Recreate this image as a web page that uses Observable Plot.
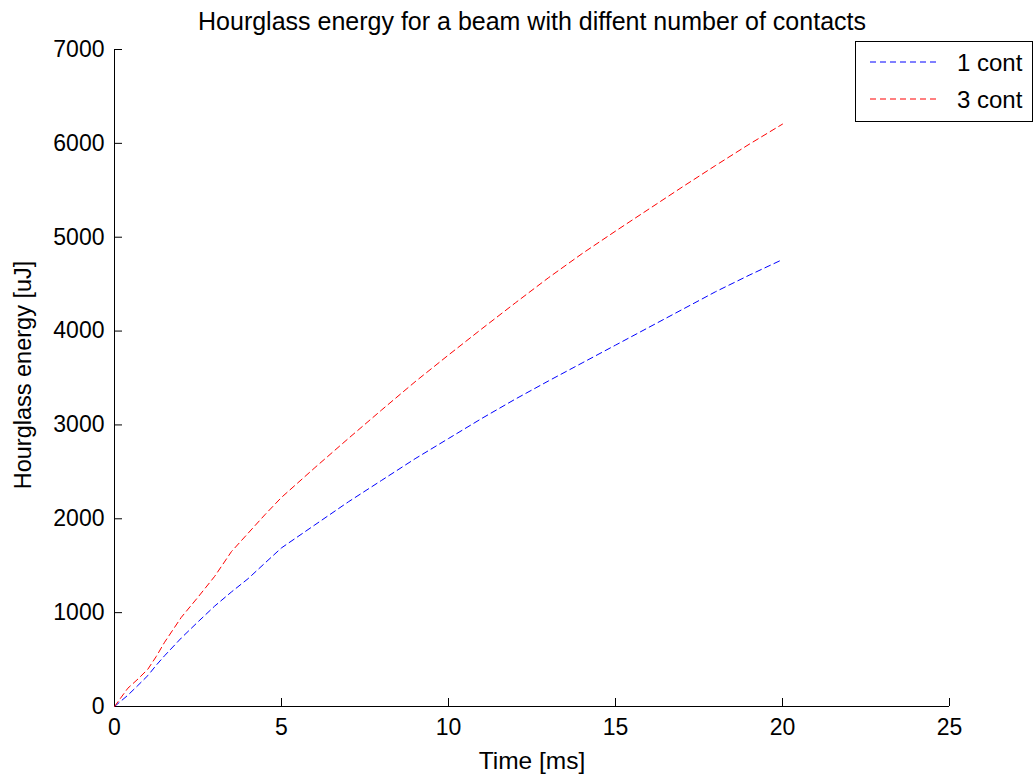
<!DOCTYPE html>
<html>
<head>
<meta charset="utf-8">
<script src="https://cdn.jsdelivr.net/npm/d3@7"></script>
<script src="https://cdn.jsdelivr.net/npm/@observablehq/plot@0.6"></script>
<style>
  html, body { margin: 0; padding: 0; background: #fff; }
  #chart svg { display: block; }
</style>
</head>
<body>
<div id="chart"></div>
<script>
const titleText = "Hourglass energy for a beam with diffent number of contacts";
const xLabel = "Time [ms]";
const yLabel = "Hourglass energy [uJ]";
const seriesNames = ["1 cont", "3 cont"];
const seriesColors = ["#0000ff", "#ff0000"];
const xTicks = [0, 5, 10, 15, 20, 25];
const yTicks = [0, 1000, 2000, 3000, 4000, 5000, 6000, 7000];

const time = [0, 0.4, 0.7, 1.0, 1.25, 1.5, 2, 2.5, 3, 3.5, 4, 4.5, 5, 6, 7, 8, 9, 10, 11, 12, 13, 14, 15, 16, 17, 18, 19, 20];
const cont1 = [0, 120, 224, 330, 440, 541, 730, 902, 1070, 1220, 1362, 1527, 1690, 1935, 2180, 2410, 2640, 2855, 3070, 3275, 3470, 3660, 3850, 4040, 4230, 4420, 4595, 4762];
const cont3 = [0, 195, 292, 398, 533, 685, 950, 1165, 1387, 1650, 1846, 2042, 2228, 2545, 2855, 3160, 3460, 3745, 4025, 4300, 4570, 4825, 5065, 5300, 5535, 5765, 5990, 6205];

const rows = [];
time.forEach((t, i) => {
  rows.push({t, e: cont1[i], s: seriesNames[0]});
});
time.forEach((t, i) => {
  rows.push({t, e: cont3[i], s: seriesNames[1]});
});

const font = "'Liberation Sans', Arial, Helvetica, sans-serif";
const W = 1035, H = 780;
const mL = 114, mR = 86, mT = 49, mB = 74;
const pxX = (W - mL - mR) / 25;      // px per ms
const pxY = (H - mT - mB) / 7000;    // px per uJ
const tickLen = 8;

const plot = Plot.plot({
  width: W,
  height: H,
  marginLeft: mL,
  marginRight: mR,
  marginTop: mT,
  marginBottom: mB,
  style: {fontFamily: font, background: "#fff", color: "#000"},
  x: {domain: [0, 25], label: null},
  y: {domain: [0, 7000], label: null},
  color: {domain: seriesNames, range: seriesColors},
  marks: [
    Plot.axisX({ticks: xTicks, tickSize: 0, tickPadding: 12, fontSize: 23, tickFormat: d => String(d), label: null}),
    Plot.axisY({ticks: yTicks, tickSize: 0, tickPadding: 10, fontSize: 23, tickFormat: d => String(d), label: null}),
    Plot.ruleX(xTicks, {x: d => d, y1: 0, y2: tickLen / pxY, stroke: "#000", strokeWidth: 1}),
    Plot.ruleY(yTicks, {y: d => d, x1: 0, x2: tickLen / pxX, stroke: "#000", strokeWidth: 1}),
    Plot.ruleX([0], {stroke: "#000", strokeWidth: 1}),
    Plot.ruleY([0], {stroke: "#000", strokeWidth: 1}),
    Plot.line(rows, {x: "t", y: "e", z: "s", stroke: "s", strokeWidth: 1, strokeDasharray: "6,4"}),
    Plot.text([titleText], {frameAnchor: "top", dy: -28, fontSize: 25, textAnchor: "middle", lineAnchor: "middle", text: d => d, fill: "#000"}),
    Plot.text([xLabel], {frameAnchor: "bottom", dy: 55, fontSize: 24.5, textAnchor: "middle", lineAnchor: "middle", text: d => d, fill: "#000"}),
    Plot.text([yLabel], {frameAnchor: "left", dx: -91, dy: -3, rotate: -90, fontSize: 23.5, textAnchor: "middle", lineAnchor: "middle", text: d => d, fill: "#000"})
  ]
});

// Legend drawn into the same SVG
const svg = d3.select(plot);
const lg = svg.append("g").attr("font-family", font).attr("font-size", 24).attr("text-anchor", "start");
lg.append("rect").attr("x", 855.5).attr("y", 41.5).attr("width", 177).attr("height", 80)
  .attr("fill", "#fff").attr("stroke", "#000").attr("stroke-width", 1);
const ly = [62, 99];
seriesNames.forEach((name, i) => {
  lg.append("line").attr("x1", 870).attr("x2", 940).attr("y1", ly[i]).attr("y2", ly[i])
    .attr("stroke", seriesColors[i]).attr("stroke-width", 1).attr("stroke-dasharray", "6,4");
  lg.append("text").attr("x", 957).attr("y", ly[i] + 9).attr("fill", "#000").attr("text-anchor", "start").text(name);
});

document.getElementById("chart").appendChild(plot);
</script>
</body>
</html>
